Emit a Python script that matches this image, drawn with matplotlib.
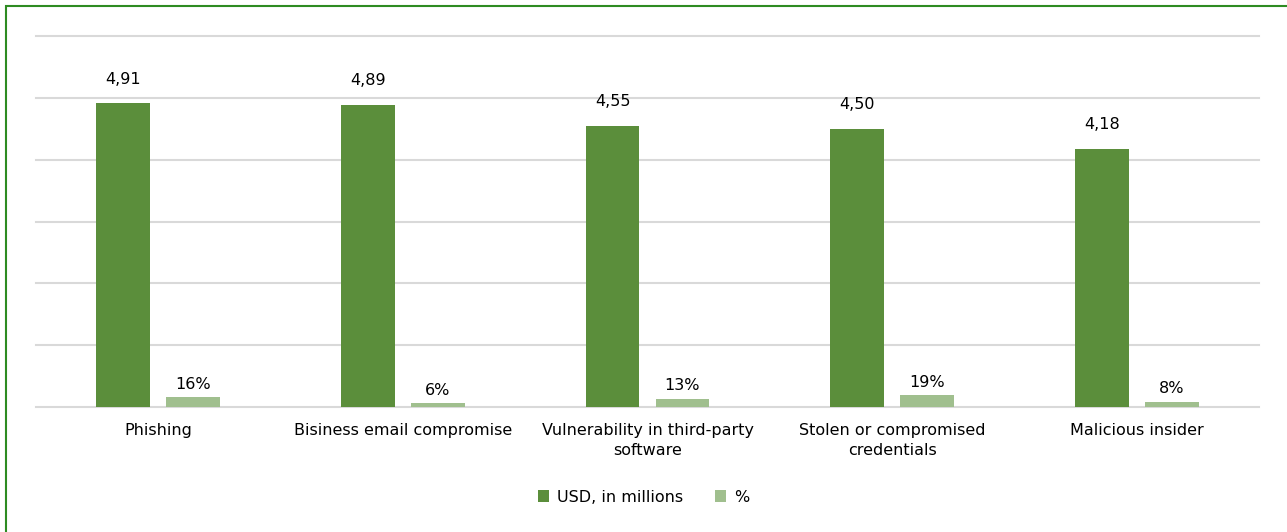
import matplotlib.pyplot as plt
import numpy as np
from matplotlib.patches import Rectangle

categories = ["Phishing", "Bisiness email compromise", "Vulnerability in third-party\nsoftware",
              "Stolen or compromised\ncredentials", "Malicious insider"]
usd_millions = [4.91, 4.89, 4.55, 4.50, 4.18]
share_pct = [16, 6, 13, 19, 8]

dark = "#5B8E3B"
light = "#A0BF8E"
fs = 11.5

plt.rcParams['font.family'] = ['DejaVu Sans']

fig = plt.figure(figsize=(12.87, 5.32), dpi=100)
ax = fig.add_axes([36 / 1287, 1 - 407 / 532, (1259 - 36) / 1287, (407 - 36) / 532])

x = np.arange(len(categories))
w = 0.22
off = 0.143
b1 = ax.bar(x - off, usd_millions, w, color=dark, label="USD, in millions", zorder=3)
b2 = ax.bar(x + off, [p / 100 for p in share_pct], w, color=light, label="%", zorder=3)

for rect, v in zip(b1, usd_millions):
    ax.annotate(f"{v:.2f}".replace(".", ","), (rect.get_x() + rect.get_width() / 2, rect.get_height()),
                xytext=(0, 12), textcoords="offset points", ha="center", va="bottom", fontsize=fs)
for rect, p in zip(b2, share_pct):
    ax.annotate(f"{p}%", (rect.get_x() + rect.get_width() / 2, rect.get_height()),
                xytext=(0, 4), textcoords="offset points", ha="center", va="bottom", fontsize=fs)

ax.set_xlim(-0.5, len(categories) - 0.5)
ax.set_ylim(0, 6)
ax.set_yticks(range(7))
ax.yaxis.grid(True, color="#D9D9D9", linewidth=1.5, zorder=0)
for gl in ax.get_ygridlines():
    gl.set_clip_on(False)
ax.tick_params(axis="y", left=False, labelleft=False)
ax.tick_params(axis="x", bottom=False, pad=8, labelsize=fs)
ax.set_xticks(x)
ax.set_xticklabels(categories, linespacing=1.45)
for s in ax.spines.values():
    s.set_visible(False)

fig.legend(loc="center", bbox_to_anchor=(0.5, 1 - 497 / 532), ncol=2, frameon=False,
           fontsize=fs, handlelength=0.7, handleheight=0.7, columnspacing=2.0, handletextpad=0.5)

fig.patches.append(Rectangle((6 / 1287, -0.1), 1.2, 1 - 6 / 532 + 0.1, transform=fig.transFigure,
                             fill=False, edgecolor="#2E8B22", linewidth=1.5))

fig.savefig("out.png", dpi=100)
